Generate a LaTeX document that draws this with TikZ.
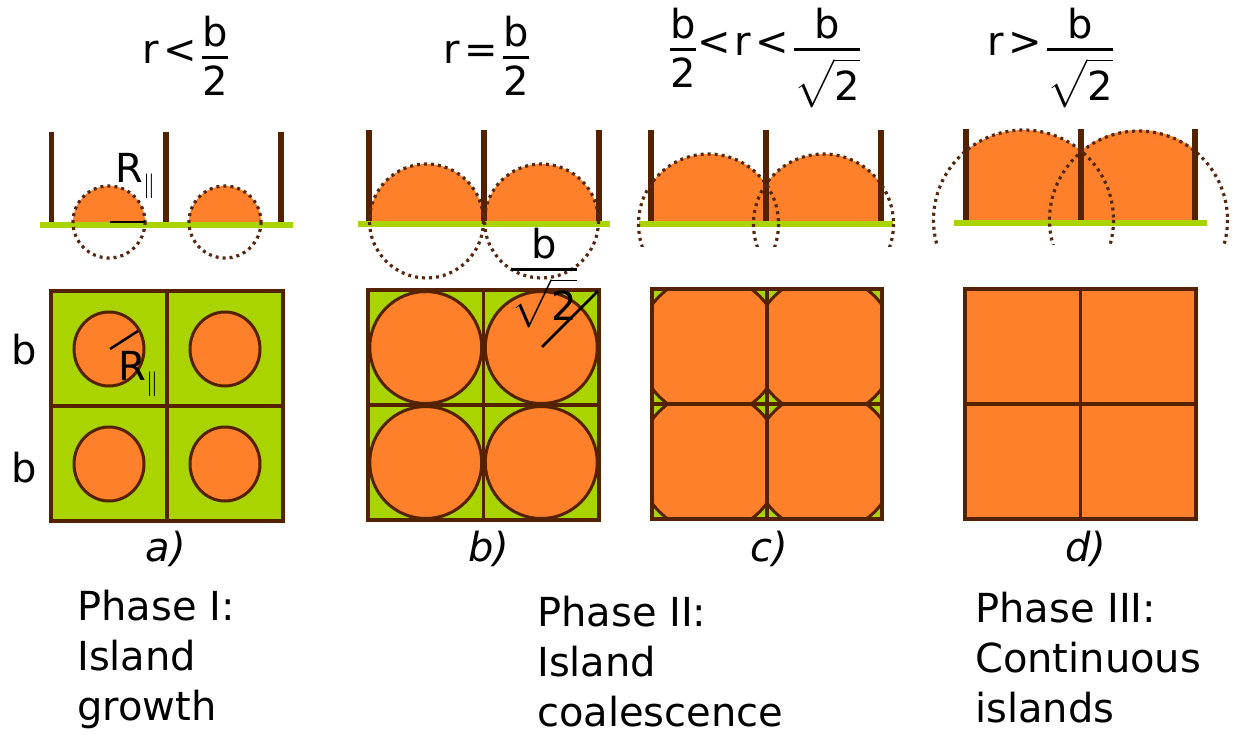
\documentclass[tikz,border=0pt]{standalone}
\usepackage{amsmath,amssymb}
\usepackage{fontspec}
\setmainfont{DejaVu Sans}
\usepackage{tikz}
\usetikzlibrary{positioning}
\definecolor{filmor}{RGB}{254,128,42}
\definecolor{subgreen}{RGB}{170,212,0}
\definecolor{pillbrown}{RGB}{85,34,0}
\definecolor{dotbrown}{RGB}{85,40,15}
\newcommand{\fr}[2]{\genfrac{}{}{2.4pt}{0}{\text{#1}}{#2}}
\tikzset{
  % island material
  film/.style={fill=filmor},
  % substrate line in the side views
  substr/.style={draw=subgreen, line width=6pt},
  % grain-boundary walls in the side views
  pillar/.style={draw=pillbrown, line width=5.5pt},
  % dotted continuation of the island caps
  dotcirc/.style={draw=dotbrown, line width=3.2pt, dash pattern=on 3pt off 4pt},
  % cell walls and island rims in the top views
  gridln/.style={draw=pillbrown, line width=3.5pt},
  rimln/.style={draw=pillbrown, line width=3pt},
  % radius markers
  radln/.style={black, line width=2.5pt},
  txt/.style={inner sep=0pt, font=\fontsize{40}{50}\selectfont},
}
\begin{document}
\begin{tikzpicture}[x=1pt, y=-1pt]
    \useasboundingbox (0,0) rectangle (1238,734);
    % conditions on r
    \node[txt] (ca) at (186,56) {r$\,\text{<}\,\fr{b}{\text{2}}$};
    \node[txt] (cb) at (487,56) {r$\,\text{=}\,\fr{b}{\text{2}}$};
    \node[txt] (cc) at (765,58) {$\fr{b}{\text{2}}\text{<}\,$r$\,\text{<}\,\fr{b}{\sqrt{\text{2}}}$};
    \node[txt] (cd) at (1051,58) {r$\,\text{>}\,\fr{b}{\sqrt{\text{2}}}$};
    % ---- side views ----
    % a) small caps
    \begin{scope}
      \clip (51.5,100) rectangle (281,222);
      \fill[film] (109,222) circle (36);
      \fill[film] (225,222) circle (36);
    \end{scope}
    \foreach \x in {51.5,166,281} \draw[pillar] (\x,132) -- (\x,222);
    \draw[substr] (40,225) -- (293,225);
    \draw[dotcirc] (109,222) circle (36);
    \draw[dotcirc] (225,222) circle (36);
    \draw[radln] (110,222) -- (145,222);
    \node[txt, anchor=base west] (rsa) at (115,182) {R$_{\parallel}$};
    % b) caps touching
    \begin{scope}
      \clip (369,100) rectangle (599,222);
      \fill[film] (426.5,221) circle (57);
      \fill[film] (541.5,221) circle (57);
    \end{scope}
    \foreach \x in {369,484,599} \draw[pillar] (\x,130) -- (\x,222);
    \draw[substr] (358,224) -- (610,224);
    \draw[dotcirc] (426.5,221) circle (57);
    \draw[dotcirc] (541.5,221) circle (57);
    % c) caps cut by the walls
    \begin{scope}
      \clip (651,100) rectangle (881,222);
      \fill[film] (708.5,224) circle (70);
      \fill[film] (823.5,224) circle (70);
    \end{scope}
    \foreach \x in {651,766,881} \draw[pillar] (\x,130) -- (\x,222);
    \draw[substr] (639,224) -- (893,224);
    \begin{scope}
      \clip (600,100) rectangle (940,246);
      \draw[dotcirc] (708.5,224) circle (70);
      \draw[dotcirc] (823.5,224) circle (70);
    \end{scope}
    % d) large caps
    \begin{scope}
      \clip (966,100) rectangle (1195,220);
      \fill[film] (1023.5,220) circle (90);
      \fill[film] (1138.5,220) circle (90);
    \end{scope}
    \foreach \x in {966,1081,1195} \draw[pillar] (\x,129) -- (\x,220);
    \draw[substr] (954,222.5) -- (1207,222.5);
    \begin{scope}
      \clip (900,100) rectangle (1238,244);
      \draw[dotcirc] (1023.5,220) circle (90);
      \draw[dotcirc] (1138.5,220) circle (89);
    \end{scope}
    % ---- top views ----
    % a)
    \fill[subgreen] (51,291) rectangle (283,521);
    \foreach \cx in {109,225} \foreach \cy in {349,464}
      \filldraw[film, rimln] (\cx,\cy) ellipse (35 and 37);
    \draw[gridln] (51,291) rectangle (283,521) (167,291) -- (167,521) (51,406) -- (283,406);
    \draw[radln] (110,349) -- (138,331);
    \node[txt, anchor=base west] (rta) at (118,380) {R$_{\parallel}$};
    \node[txt] (ba) at (24,350) {b};
    \node[txt] (bb) at (24,468) {b};
    % b)
    \fill[subgreen] (368,290) rectangle (599,520);
    \foreach \cx in {425.75,541.25} \foreach \cy in {347.5,462.5}
      \filldraw[film, rimln] (\cx,\cy) circle (56);
    \draw[gridln] (368,290) rectangle (599,520) (483.5,290) -- (483.5,520) (368,405) -- (599,405);
    \draw[radln] (542,347) -- (598,291);
    \node[txt] (rb) at (544,278) {$\fr{b}{\sqrt{\text{2}}}$};
    % c)
    \fill[subgreen] (652,289) rectangle (882,519);
    \foreach \i in {0,1} \foreach \j in {0,1} {
      \begin{scope}
        \clip (652+115*\i,289+115*\j) rectangle (767+115*\i,404+115*\j);
        \filldraw[film, rimln] (709.5+115*\i,346.5+115*\j) circle (71);
      \end{scope}
    }
    \draw[gridln] (652,289) rectangle (882,519) (767,289) -- (767,519) (652,404) -- (882,404);
    % d)
    \fill[filmor] (965,289) rectangle (1196,519);
    \draw[gridln] (965,289) rectangle (1196,519) (1080.5,289) -- (1080.5,519) (965,404) -- (1196,404);
    % panel letters
    \node[txt, font=\fontsize{40}{50}\selectfont\itshape] (la) at (166,549) {a)};
    \node[txt, font=\fontsize{40}{50}\selectfont\itshape] (lb) at (489,549) {b)};
    \node[txt, font=\fontsize{40}{50}\selectfont\itshape] (lc) at (769,549) {c)};
    \node[txt, font=\fontsize{40}{50}\selectfont\itshape] (ld) at (1086,549) {d)};
    % phases
    \node[txt, anchor=north west, align=left] (p1) at (77,590) {Phase I:\\Island\\growth};
    \node[txt, anchor=north west, align=left] (p2) at (537,596) {Phase II:\\Island\\coalescence};
    \node[txt, anchor=north west, align=left] (p3) at (975,592) {Phase III:\\Continuous\\islands};
\end{tikzpicture}
\end{document}
